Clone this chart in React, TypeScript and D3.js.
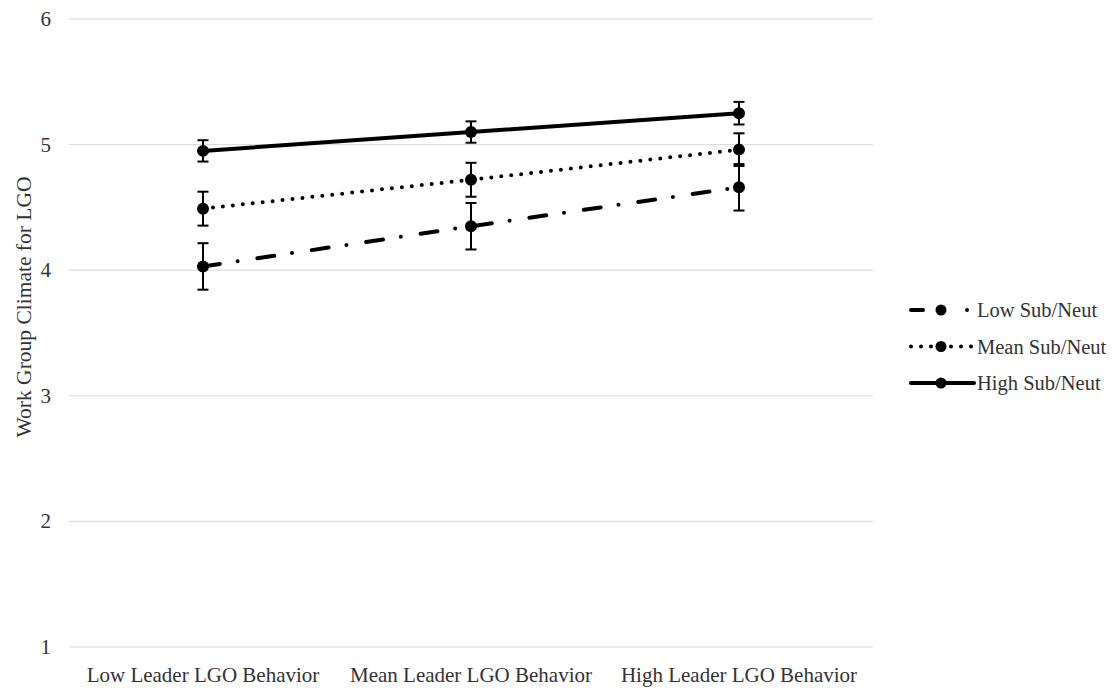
import * as d3 from "d3";
import { useRef, useEffect } from "react";

// values
const categories = ["Low Leader LGO Behavior", "Mean Leader LGO Behavior", "High Leader LGO Behavior"];
const seriesNames = ["Low Sub/Neut", "Mean Sub/Neut", "High Sub/Neut"];
const lowSub = [4.03, 4.35, 4.66];
const lowSubErr = [0.185, 0.185, 0.185];
const meanSub = [4.49, 4.72, 4.96];
const meanSubErr = [0.135, 0.135, 0.13];
const highSub = [4.95, 5.1, 5.25];
const highSubErr = [0.085, 0.085, 0.09];
const yTicks = [1, 2, 3, 4, 5, 6];
const yTitle = "Work Group Climate for LGO";

const FONT = "'Liberation Serif', 'Times New Roman', serif";
const TEXT_COLOR = "#333";

const App = () => {
    const svgRef = useRef<SVGSVGElement>(null);

    useEffect(() => {
        const svg = d3.select(svgRef.current);
        svg.selectAll("*").remove();

        const left = 69, right = 873, top = 19, bottom = 647;

        const x = d3.scaleBand<string>()
            .domain(categories)
            .range([left, right]);

        const y = d3.scaleLinear()
            .domain([1, 6])
            .range([bottom, top]);

        const cx = (i: number) => (x(categories[i]) as number) + x.bandwidth() / 2;

        // grid lines
        svg.append("g")
            .selectAll("line")
            .data(yTicks)
            .enter()
            .append("line")
            .attr("x1", left)
            .attr("x2", right)
            .attr("y1", d => y(d))
            .attr("y2", d => y(d))
            .attr("stroke", "#d9d9d9")
            .attr("stroke-width", 1);

        // y tick labels
        svg.append("g")
            .selectAll("text")
            .data(yTicks)
            .enter()
            .append("text")
            .attr("x", 51)
            .attr("y", d => y(d))
            .attr("text-anchor", "end")
            .attr("dominant-baseline", "central")
            .attr("font-family", FONT)
            .attr("font-size", "21px")
            .attr("fill", TEXT_COLOR)
            .text(d => d);

        // x category labels
        svg.append("g")
            .selectAll("text")
            .data(categories)
            .enter()
            .append("text")
            .attr("x", (d, i) => cx(i))
            .attr("y", 682)
            .attr("text-anchor", "middle")
            .attr("font-family", FONT)
            .attr("font-size", "21px")
            .attr("fill", TEXT_COLOR)
            .text(d => d);

        // y axis title
        svg.append("text")
            .attr("transform", `translate(31, 307) rotate(-90)`)
            .attr("text-anchor", "middle")
            .attr("font-family", FONT)
            .attr("font-size", "21.5px")
            .attr("fill", TEXT_COLOR)
            .text(yTitle);

        const series = [
            { name: seriesNames[0], values: lowSub, err: lowSubErr, dash: "17 18 0 20" },
            { name: seriesNames[1], values: meanSub, err: meanSubErr, dash: "0 10" },
            { name: seriesNames[2], values: highSub, err: highSubErr, dash: null },
        ];

        const line = d3.line<number>()
            .x((d, i) => cx(i))
            .y(d => y(d));

        series.forEach(s => {
            svg.append("path")
                .datum(s.values)
                .attr("fill", "none")
                .attr("stroke", "#000")
                .attr("stroke-width", 4)
                .attr("stroke-linecap", "round")
                .attr("stroke-dasharray", s.dash)
                .attr("d", line);

            // error bars
            const eb = svg.append("g")
                .attr("stroke", "#000")
                .attr("stroke-width", 2);
            s.values.forEach((v, i) => {
                const px = cx(i);
                const y0 = y(v - s.err[i]);
                const y1 = y(v + s.err[i]);
                eb.append("line").attr("x1", px).attr("x2", px).attr("y1", y0).attr("y2", y1);
                eb.append("line").attr("x1", px - 5.5).attr("x2", px + 5.5).attr("y1", y0).attr("y2", y0);
                eb.append("line").attr("x1", px - 5.5).attr("x2", px + 5.5).attr("y1", y1).attr("y2", y1);
            });

            svg.append("g")
                .selectAll("circle")
                .data(s.values)
                .enter()
                .append("circle")
                .attr("cx", (d, i) => cx(i))
                .attr("cy", d => y(d))
                .attr("r", 6)
                .attr("fill", "#000");
        });

        // legend
        const legendDash = ["12 44 0 20", "0 10", null];
        series.forEach((s, i) => {
            const ly = 310 + i * 36.5;
            const g = svg.append("g");
            g.append("line")
                .attr("x1", 911)
                .attr("x2", 974)
                .attr("y1", ly)
                .attr("y2", ly)
                .attr("stroke", "#000")
                .attr("stroke-width", 4)
                .attr("stroke-linecap", "round")
                .attr("stroke-dasharray", legendDash[i]);
            g.append("circle")
                .attr("cx", 941)
                .attr("cy", ly)
                .attr("r", 5.5)
                .attr("fill", "#000");
            g.append("text")
                .attr("x", 977)
                .attr("y", ly)
                .attr("dominant-baseline", "central")
                .attr("font-family", FONT)
                .attr("font-size", "20.5px")
                .attr("fill", TEXT_COLOR)
                .text(s.name);
        });
    }, []);

    return (
        <svg
            ref={svgRef}
            width={1120}
            height={690}
            style={{ position: "absolute", left: 0, top: 0, background: "#fff" }}
        />
    );
};

export default App;
